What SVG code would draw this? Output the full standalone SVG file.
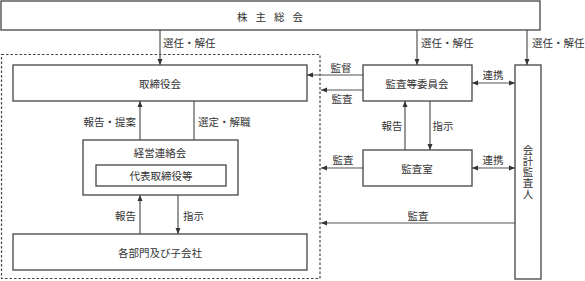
<svg xmlns="http://www.w3.org/2000/svg" width="585" height="281" viewBox="0 0 585 281">
<defs>
<marker id="ah" markerUnits="userSpaceOnUse" markerWidth="6" markerHeight="6" viewBox="0 0 6 6" refX="6" refY="3" orient="auto-start-reverse">
<path d="M0,0.5 L6,3 L0,5.5 Z" fill="#333"/>
</marker>
</defs>
<style>
.box{fill:#fff;stroke:#444;stroke-width:1.3}
.ln{fill:none;stroke:#555;stroke-width:1.2}
.t{font-family:"Noto Sans CJK JP","Noto Sans CJK SC",sans-serif;font-size:10.5px;fill:#333}
.c{text-anchor:middle;dominant-baseline:central}
.dash{fill:none;stroke:#444;stroke-width:1.2;stroke-dasharray:2.5,2}
</style>
<rect width="585" height="281" fill="#fff"/>
<rect id="group-frame" class="dash" x="1.5" y="54.5" width="318.5" height="224"/>
<g id="connectors">
<line class="ln" x1="160" y1="30" x2="160" y2="65" marker-end="url(#ah)"/>
<line class="ln" x1="417" y1="30" x2="417" y2="65" marker-end="url(#ah)"/>
<line class="ln" x1="527" y1="30" x2="527" y2="65" marker-end="url(#ah)"/>
<line class="ln" x1="363" y1="75" x2="307" y2="75" marker-end="url(#ah)"/>
<line class="ln" x1="363" y1="90" x2="321" y2="90" marker-end="url(#ah)"/>
<line class="ln" x1="472" y1="83" x2="515" y2="83" marker-start="url(#ah)" marker-end="url(#ah)"/>
<line class="ln" x1="405" y1="150" x2="405" y2="101" marker-end="url(#ah)"/>
<line class="ln" x1="430" y1="101" x2="430" y2="150" marker-end="url(#ah)"/>
<line class="ln" x1="363" y1="168" x2="321" y2="168" marker-end="url(#ah)"/>
<line class="ln" x1="472" y1="168" x2="515" y2="168" marker-start="url(#ah)" marker-end="url(#ah)"/>
<line class="ln" x1="515" y1="223" x2="321" y2="223" marker-end="url(#ah)"/>
<line class="ln" x1="140" y1="140" x2="140" y2="101" marker-end="url(#ah)"/>
<line class="ln" x1="194" y1="101" x2="194" y2="165" marker-end="url(#ah)"/>
<line class="ln" x1="140" y1="234" x2="140" y2="195" marker-end="url(#ah)"/>
<line class="ln" x1="178" y1="195" x2="178" y2="234" marker-end="url(#ah)"/>
<text class="t" x="163" y="42" dominant-baseline="central">選任・解任</text>
<text class="t" x="421" y="42" dominant-baseline="central">選任・解任</text>
<text class="t" x="532" y="42" dominant-baseline="central">選任・解任</text>
<text class="t c" x="341" y="67">監督</text>
<text class="t c" x="342" y="98">監査</text>
<text class="t c" x="493" y="74">連携</text>
<text class="t c" x="392" y="125">報告</text>
<text class="t c" x="443" y="125">指示</text>
<text class="t c" x="343" y="159">監査</text>
<text class="t c" x="493" y="159">連携</text>
<text class="t c" x="418" y="215">監査</text>
<text class="t" x="136" y="121" text-anchor="end" dominant-baseline="central">報告・提案</text>
<text class="t" x="198" y="121" dominant-baseline="central">選定・解職</text>
<text class="t" x="136" y="215" text-anchor="end" dominant-baseline="central">報告</text>
<text class="t" x="183" y="215" dominant-baseline="central">指示</text>
</g>
<g id="shareholders">
<rect class="box" x="1" y="1" width="539" height="29"/>
<text class="t c" x="274" y="16" letter-spacing="8">株主総会</text>
</g>
<g id="board">
<rect class="box" x="13" y="65" width="294" height="36"/>
<text class="t c" x="160" y="83">取締役会</text>
</g>
<g id="mgmt-council">
<rect class="box" x="83" y="140" width="155" height="55"/>
<text class="t c" x="160" y="152">経営連絡会</text>
</g>
<g id="rep-directors">
<rect class="box" x="96" y="165" width="130" height="21"/>
<text class="t c" x="161" y="175.5">代表取締役等</text>
</g>
<g id="divisions">
<rect class="box" x="13" y="234" width="294" height="36"/>
<text class="t c" x="160" y="252">各部門及び子会社</text>
</g>
<g id="audit-committee">
<rect class="box" x="363" y="65" width="109" height="36"/>
<text class="t c" x="417" y="83">監査等委員会</text>
</g>
<g id="audit-office">
<rect class="box" x="363" y="150" width="109" height="36"/>
<text class="t c" x="417" y="168">監査室</text>
</g>
<g id="accounting-auditor">
<rect class="box" x="515" y="65" width="26" height="214"/>
<text class="t" x="528" y="145" writing-mode="vertical-rl" letter-spacing="0.5">会計監査人</text>
</g>
</svg>
